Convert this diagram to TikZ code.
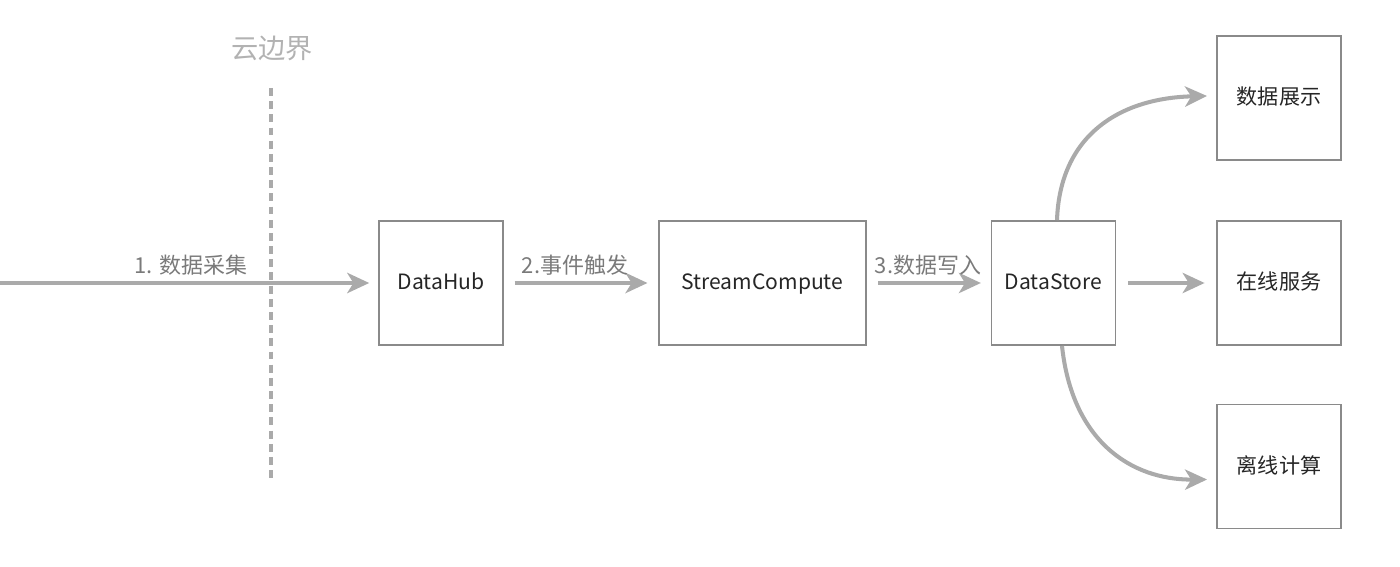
\documentclass[tikz,border=0pt]{standalone}
\usepackage{fontspec}
\setmainfont{Noto Sans CJK SC}
\usetikzlibrary{arrows.meta}
\definecolor{linegray}{HTML}{AAAAAA}
\definecolor{boxgray}{HTML}{8A8A8A}
\definecolor{labgray}{HTML}{7A7A7A}
\begin{document}
\begin{tikzpicture}[x=0.02cm,y=-0.02cm,
  box/.style={draw=boxgray,line width=1.1pt,minimum width=124*0.02cm,minimum height=124*0.02cm,inner sep=0pt,font=\fontsize{12}{14}\selectfont,text=black!85,text height=0.86em,text depth=0.1em},
  flow/.style={draw=linegray,line width=2.3pt,-{Stealth[length=12.5pt,width=11.5pt,inset=3.5pt]}},
  lab/.style={font=\fontsize{12.5}{14}\selectfont,text=labgray}]
\useasboundingbox (0,0) rectangle (1400,567);
\node[font=\fontsize{15.5}{17}\selectfont,text=linegray!90] (cloud) at (272,48) {云边界};
\coordinate (vtop) at (271,88);
\coordinate (vbot) at (271,482);
\draw[draw=linegray,line width=2.3pt,dash pattern=on 4.5pt off 3pt] (vtop) -- (vbot);
\node[box] (dh) at (441,283) {DataHub};
\node[box,minimum width=207*0.02cm] (sc) at (762.5,283) {StreamCompute};
\node[box] (ds) at (1053.5,283) {DataStore};
\node[box] (show) at (1279,98) {数据展示};
\node[box] (online) at (1279,283) {在线服务};
\node[box] (offline) at (1279,466.5) {离线计算};
\coordinate (src) at (0,283);
\draw[flow,shorten >=5pt] (src) -- (dh.west);
\draw[flow,shorten <=6pt,shorten >=6pt] (dh.east) -- (sc.west);
\draw[flow,shorten <=6.5pt,shorten >=5.5pt] (sc.east) -- (ds.west);
\draw[flow,shorten <=6.5pt,shorten >=6.5pt] (ds.east) -- (online.west);
\draw[flow] ([xshift=3.5*0.02cm]ds.north) .. controls (1060,135) and (1120,98) .. ([xshift=-9*0.02cm,yshift=2*0.02cm]show.west);
\draw[flow] ([xshift=8.5*0.02cm]ds.south) .. controls (1072,440) and (1130,480) .. ([xshift=-9*0.02cm,yshift=-13*0.02cm]offline.west);
\node[lab] (l1) at (191,265) {1. 数据采集};
\node[lab] (l2) at (575,265) {2.事件触发};
\node[lab] (l3) at (928,265) {3.数据写入};
\end{tikzpicture}
\end{document}
